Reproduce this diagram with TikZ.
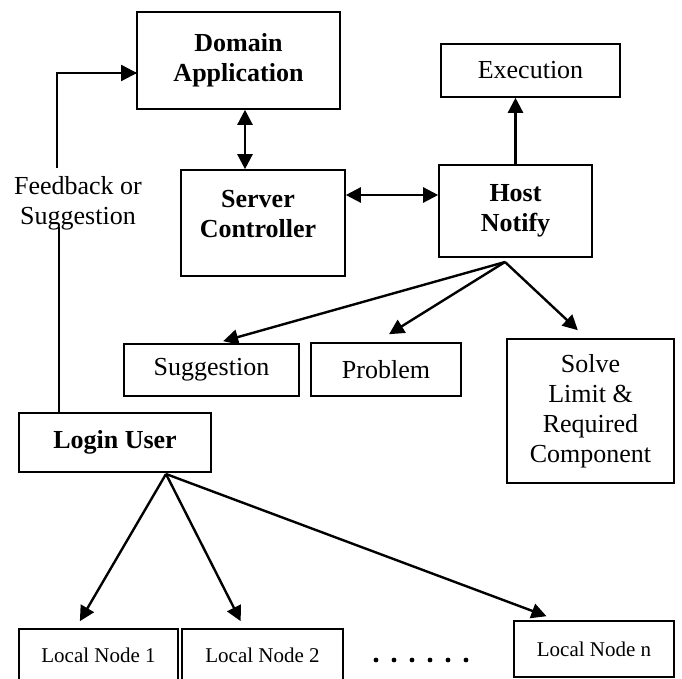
\documentclass[tikz,border=0pt]{standalone}
\usepackage{fontspec}
\setmainfont{Liberation Serif}
\usetikzlibrary{arrows.meta,calc}
\begin{document}
\begin{tikzpicture}[x=1pt,y=-1pt,
  box/.style={draw, line width=1.6pt, inner sep=0pt, align=center, font=\fontsize{26}{30}\selectfont},
  bbox/.style={box, font=\fontsize{26}{30}\selectfont\bfseries},
  lnode/.style={draw, line width=1.6pt, inner sep=0pt, font=\fontsize{21}{25}\selectfont},
  txt/.style={inner sep=0pt, align=center, font=\fontsize{26}{30}\selectfont},
  arr/.style={line width=2.4pt, -{Triangle[length=15pt,width=15pt]}},
  darr/.style={line width=2.4pt, {Triangle[length=15pt,width=15pt]}-{Triangle[length=15pt,width=15pt]}},
  fb/.style={line width=1.6pt}]
\useasboundingbox (0,0) rectangle (682,679);

% boxes
\node[bbox, minimum width=203pt, minimum height=97pt] (domain) at (238.5,60.5) {Domain\\Application};
\node[box, minimum width=179pt, minimum height=53pt] (exec) at (530.5,70.5) {Execution};
\node[box, minimum width=164pt, minimum height=106pt] (server) at (263,223) {};
\node[txt, font=\fontsize{26}{30}\selectfont\bfseries] (servert) at (258,214) {Server\\Controller};
\node[bbox, minimum width=153pt, minimum height=92pt] (host) at (515.5,211) {Host\\Notify};
\node[box, minimum width=175pt, minimum height=52pt] (sugg) at (211.5,370) {Suggestion};
\node[box, minimum width=150pt, minimum height=53pt] (prob) at (386,369.5) {Problem};
\node[box, minimum width=167pt, minimum height=144pt] (solve) at (590.5,411) {Solve\\Limit \&\\Required\\Component};
\node[bbox, minimum width=192pt, minimum height=59pt] (login) at (115,442.5) {Login User};
\node[lnode, minimum width=159pt, minimum height=52pt] (ln1) at (98.5,655) {Local Node 1};
\node[lnode, minimum width=161pt, minimum height=52pt] (ln2) at (262.5,655) {Local Node 2};
\node[lnode, minimum width=160pt, minimum height=56pt] (lnn) at (594,649) {Local Node n};
\foreach \i in {0,...,5} \fill (376+18*\i,660) circle (2.4pt);

% feedback
\node[txt] (fbt) at (78,203) {Feedback or\\Suggestion};
\coordinate (fbtop) at (57,168);
\coordinate (fbbot) at (59,227);
\coordinate (fbin) at (137,73);
\draw[fb] (fbbot |- login.north) -- (fbbot);
\draw[fb] (fbtop) |- (fbin);
\draw[line width=2.4pt, -{Triangle[length=16pt,width=16pt]}] (fbtop |- fbin) -- (fbin);

% main arrows
\coordinate (dsx) at (245,0);
\draw[darr] (dsx |- domain.south) -- (dsx |- server.north);
\coordinate (shy) at (0,195);
\draw[darr] (server.east |- shy) -- (host.west |- shy);
\draw[arr] (host.north) -- (host.north |- exec.south);

% host fan
\coordinate (hfan) at (505,262);
\draw[arr] (hfan) -- ($(sugg.north west)!0.566!(sugg.north east)+(0,-2)$);
\draw[arr] (hfan) -- ($(prob.north west)!0.52!(prob.north east)+(0,-8)$);
\draw[arr] (hfan) -- ($(solve.north west)!0.425!(solve.north east)+(0,-8)$);

% login fan
\coordinate (lfan) at (166,474);
\draw[arr] (lfan) -- ($(ln1.north west)!0.384!(ln1.north east)+(0,-7)$);
\draw[arr] (lfan) -- ($(ln2.north west)!0.366!(ln2.north east)+(0,-7)$);
\draw[arr] (lfan) -- ($(lnn.north west)!0.206!(lnn.north east)+(0,-4)$);
\end{tikzpicture}
\end{document}
